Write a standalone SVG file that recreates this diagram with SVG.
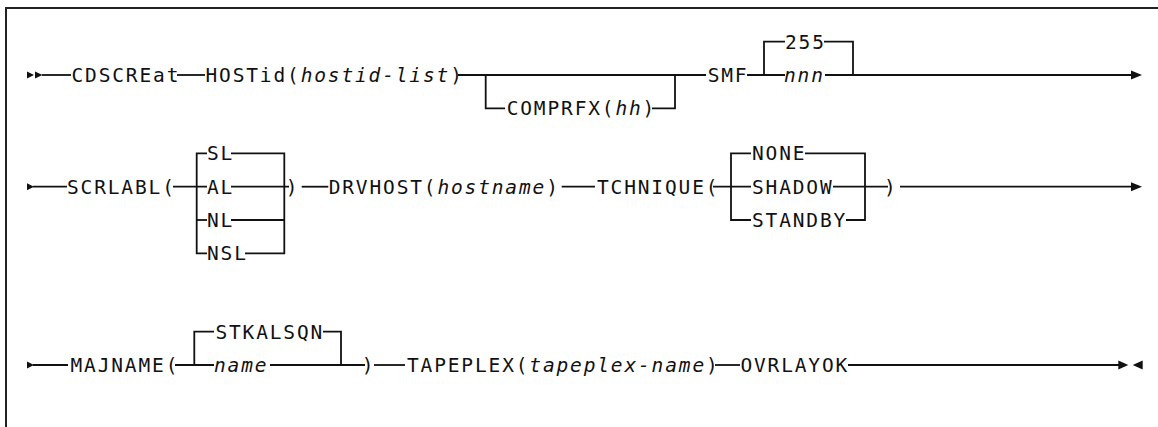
<svg xmlns="http://www.w3.org/2000/svg" width="1158" height="427" viewBox="0 0 1158 427">
<style>
text{font-family:"DejaVu Sans Mono","Liberation Mono",monospace;font-size:19.5px;letter-spacing:1.85px;fill:#111}
.i{font-style:italic}
.ln{fill:none;stroke:#111;stroke-width:1.8}
.ar{fill:#111;stroke:none}
.frame{fill:none;stroke:#222;stroke-width:2}
</style>
<rect x="0" y="0" width="1158" height="427" fill="#fff"/>
<path class="frame" d="M6,427 V8 H1158"/>

<g id="connectors">
  <!-- row 1 -->
  <path class="ar" d="M27,71.5 L34,75 L27,78.5 Z"/>
  <path class="ar" d="M35,71.5 L42.5,75 L35,78.5 Z"/>
  <path class="ln" d="M42,75 H71"/>
  <path class="ln" d="M177,75 H205"/>
  <path class="ln" d="M458,75 H706"/>
  <path class="ln" d="M485.7,75 V108.3 H505"/>
  <path class="ln" d="M652,108.3 H675 V75"/>
  <path class="ln" d="M747,75 H785"/>
  <path class="ln" d="M764,75 V41.7 H785"/>
  <path class="ln" d="M824,41.7 H853 V75"/>
  <path class="ln" d="M825,75 H1132"/>
  <path class="ar" d="M1131,70.5 L1142,75 L1131,79.5 Z"/>

  <!-- row 2 -->
  <path class="ar" d="M27,183.2 L34,186.7 L27,190.2 Z"/>
  <path class="ln" d="M33,186.7 H67"/>
  <path class="ln" d="M173,186.7 H207"/>
  <path class="ln" d="M207,153.3 H196.7 V253.3 H207"/>
  <path class="ln" d="M196.7,220 H207"/>
  <path class="ln" d="M231,153.3 H284.3 V253.3 H245"/>
  <path class="ln" d="M231,220 H284.3"/>
  <path class="ln" d="M231,186.7 H289"/>
  <path class="ln" d="M301.7,186.7 H328.3"/>
  <path class="ln" d="M561.7,186.7 H595"/>
  <path class="ln" d="M713,186.7 H751"/>
  <path class="ln" d="M751,153.3 H731 V220 H751"/>
  <path class="ln" d="M805,153.3 H865 V220 H846"/>
  <path class="ln" d="M833,186.7 H888"/>
  <path class="ln" d="M900,186.7 H1132"/>
  <path class="ar" d="M1131,182.2 L1142,186.7 L1131,191.2 Z"/>

  <!-- row 3 -->
  <path class="ar" d="M27,361.5 L34,365 L27,368.5 Z"/>
  <path class="ln" d="M33,365 H68"/>
  <path class="ln" d="M175,365 H214"/>
  <path class="ln" d="M214,331.7 H194.3 V365"/>
  <path class="ln" d="M323,331.7 H341 V365"/>
  <path class="ln" d="M270,365 H365"/>
  <path class="ln" d="M374,365 H405"/>
  <path class="ln" d="M715,365 H740"/>
  <path class="ln" d="M848,365 H1119"/>
  <path class="ar" d="M1118.3,360.5 L1128.3,365 L1118.3,369.5 Z"/>
  <path class="ar" d="M1142.7,360.5 L1132.7,365 L1142.7,369.5 Z"/>
</g>

<g id="n-cdscreat"><text x="71.5" y="82.1">CDSCREat</text></g>
<g id="n-hostid"><text x="205.5" y="82.1">HOSTid(<tspan class="i">hostid-list</tspan>)</text></g>
<g id="n-comprfx"><text x="506.7" y="115.4">COMPRFX(<tspan class="i">hh</tspan>)</text></g>
<g id="n-smf"><text x="707.7" y="82.1">SMF</text></g>
<g id="n-255"><text x="785" y="48.8">255</text></g>
<g id="n-nnn"><text class="i" x="784" y="82.1">nnn</text></g>

<g id="n-scrlabl"><text x="67" y="193.8">SCRLABL(</text></g>
<g id="n-sl"><text x="207" y="160.4">SL</text></g>
<g id="n-al"><text x="207" y="193.8">AL</text></g>
<g id="n-nl"><text x="207" y="227.1">NL</text></g>
<g id="n-nsl"><text x="207" y="260.4">NSL</text></g>
<g id="n-scrlabl-close"><text x="285.7" y="193.8">)</text></g>
<g id="n-drvhost"><text x="328.7" y="193.8">DRVHOST(<tspan class="i">hostname</tspan>)</text></g>
<g id="n-tchnique"><text x="597" y="193.8">TCHNIQUE(</text></g>
<g id="n-none"><text x="752" y="160.4">NONE</text></g>
<g id="n-shadow"><text x="752" y="193.8">SHADOW</text></g>
<g id="n-standby"><text x="752" y="227.1">STANDBY</text></g>
<g id="n-tchnique-close"><text x="884" y="193.8">)</text></g>

<g id="n-majname"><text x="70.5" y="372.1">MAJNAME(</text></g>
<g id="n-stkalsqn"><text x="215.4" y="338.8">STKALSQN</text></g>
<g id="n-name"><text class="i" x="214" y="372.1">name</text></g>
<g id="n-majname-close"><text x="361.7" y="372.1">)</text></g>
<g id="n-tapeplex"><text x="407" y="372.1">TAPEPLEX(<tspan class="i">tapeplex-name</tspan>)</text></g>
<g id="n-ovrlayok"><text x="740.4" y="372.1">OVRLAYOK</text></g>
</svg>
